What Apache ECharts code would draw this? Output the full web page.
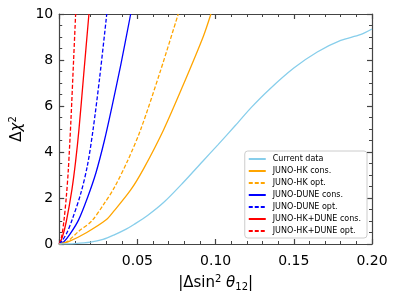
<!DOCTYPE html>
<html><head><meta charset="utf-8">
<script src="https://cdn.jsdelivr.net/npm/echarts@6/dist/echarts.min.js"></script>
<style>html,body{margin:0;padding:0;background:#fff}#c{width:399px;height:299px}</style>
</head><body><div id="c"></div>
<script>
const seriesNames = ["Current data","JUNO-HK cons.","JUNO-HK opt.","JUNO-DUNE cons.","JUNO-DUNE opt.","JUNO-HK+DUNE cons.","JUNO-HK+DUNE opt."];
const currentData = [[0,0],[0.01,0.02],[0.02,0.08],[0.028,0.2],[0.0352,0.4],[0.0428,0.65],[0.0478,0.85],[0.0567,1.25],[0.0667,1.8],[0.079,2.65],[0.0918,3.6],[0.1013,4.3],[0.1126,5.15],[0.123,5.95],[0.134,6.7],[0.150,7.65],[0.165,8.35],[0.18,8.85],[0.1925,9.1],[0.2,9.35]];
const junoHkCons = [[0,0],[0.006,0.1],[0.0176,0.5],[0.030,1.05],[0.0352,1.45],[0.0457,2.35],[0.0541,3.29],[0.0667,4.96],[0.0792,6.9],[0.092,9.0],[0.097,10]];
const junoHkOpt = [[0,0],[0.005,0.1],[0.0124,0.55],[0.0208,1.0],[0.0282,1.7],[0.0352,2.45],[0.0436,3.6],[0.052,4.96],[0.0646,7.5],[0.0761,10]];
const junoDuneCons = [[0,0],[0.003,0.1],[0.0071,0.45],[0.0124,1.05],[0.018,2.0],[0.0235,3.1],[0.0289,4.5],[0.0335,5.9],[0.0394,7.8],[0.0457,10]];
const junoDuneOpt = [[0,0],[0.002,0.15],[0.005,0.5],[0.0082,1.04],[0.0138,2.2],[0.018,3.4],[0.0215,4.9],[0.0258,7.2],[0.0304,10]];
const junoHkDuneCons = [[0,0],[0.002,0.3],[0.0046,1.0],[0.0082,2.4],[0.0105,3.6],[0.0126,4.96],[0.0157,7.4],[0.019,10]];
const junoHkDuneOpt = [[0,0],[0.0015,0.3],[0.003,1.0],[0.0046,2.1],[0.0058,3.2],[0.0075,5.4],[0.0092,8.0],[0.0105,10]];
const xTicks = [0.05,0.10,0.15,0.20];
const yTicks = [0,2,4,6,8,10];

const datasets = [currentData,junoHkCons,junoHkOpt,junoDuneCons,junoDuneOpt,junoHkDuneCons,junoHkDuneOpt];
const colors = ['#87CEEB','#FFA500','#FFA500','#0000FF','#0000FF','#FF0000','#FF0000'];
const dashed = [false,false,true,false,true,false,true];
const font = 'DejaVu Sans';
const axisCol = '#444';

const chart = echarts.init(document.getElementById('c'), null, {renderer:'canvas'});
const grid = {left:54,right:27,top:14,bottom:55};
function baseAxis(isX, show){
  return {
    type:'value', min:0, max:isX?0.2:10, interval:isX?0.05:2,
    axisLine:{show:true,onZero:false,lineStyle:{color:axisCol,width:1.2}},
    axisTick:{show:true,inside:true,length:5,lineStyle:{color:axisCol,width:1.2}},
    minorTick:{show:true,splitNumber:isX?5:4,length:3,lineStyle:{color:axisCol,width:1}},
    splitLine:{show:false},
    axisLabel:{show:show,color:'#000',fontFamily:font,fontSize:14,margin:isX?10:6,
      formatter:function(v){
        if(isX){ const m = xTicks.find(t=>Math.abs(t-v)<1e-9); return m===undefined?'':m.toFixed(2); }
        const m = yTicks.find(t=>Math.abs(t-v)<1e-9); return m===undefined?'':String(m);
      }}
  };
}
const xa = baseAxis(true,true);
Object.assign(xa,{name:'{a||Δsin}{s|2}{b| }{t|θ}{s2|12}{a||}',nameLocation:'middle',nameGap:30,
  nameTextStyle:{rich:{
    a:{fontFamily:font,fontSize:15,color:'#000'},
    b:{fontFamily:font,fontSize:15,color:'#000'},
    t:{fontFamily:font,fontSize:15,fontStyle:'italic',color:'#000'},
    s:{fontFamily:font,fontSize:10,color:'#000',verticalAlign:'top',padding:[0,0,8,0]},
    s2:{fontFamily:font,fontSize:10,color:'#000',verticalAlign:'bottom',padding:[6,0,0,0]}
  }}});
const xTop = baseAxis(true,false); xTop.position='top';
const ya = baseAxis(false,true);
Object.assign(ya,{name:'{a|Δ}{t|χ}{s|2}',nameLocation:'middle',nameGap:30,nameRotate:90,
  nameTextStyle:{rich:{
    a:{fontFamily:font,fontSize:15,color:'#000'},
    t:{fontFamily:font,fontSize:15,fontStyle:'italic',color:'#000'},
    s:{fontFamily:font,fontSize:10,color:'#000',verticalAlign:'top',padding:[0,0,8,0]}
  }}});
const yRight = baseAxis(false,false); yRight.position='right';

chart.setOption({
  animation:false,
  grid:grid,
  xAxis:[xa,xTop],
  yAxis:[ya,yRight],
  legend:{
    show:true, orient:'vertical', right:32, bottom:61,
    data:seriesNames,
    backgroundColor:'rgba(255,255,255,0.8)', borderColor:'#ccc', borderWidth:1, borderRadius:3,
    padding:[4,6,3,3], itemGap:4, itemWidth:17, itemHeight:8,
    itemStyle:{opacity:0},
    textStyle:{fontFamily:font,fontSize:8,color:'#000',padding:[0,0,0,2]}
  },
  series: datasets.map((d,i)=>({
    name:seriesNames[i], type:'line', data:d, smooth:0.3,
    showSymbol:false, symbol:'none', clip:true,
    lineStyle:{color:colors[i],width:1.3,type:dashed[i]?[4,2]:'solid'},
    itemStyle:{color:colors[i]},
    z: 10-i
  }))
});
</script></body></html>
